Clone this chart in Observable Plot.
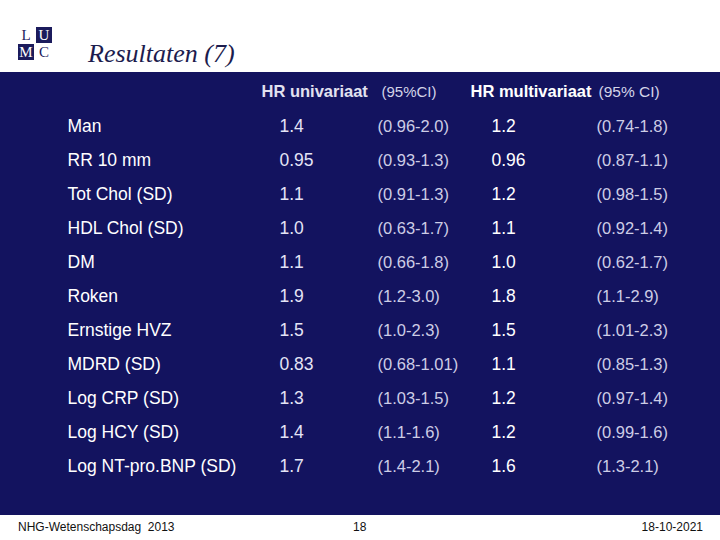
<!DOCTYPE html>
<html>
<head>
<meta charset="utf-8">
<script src="https://cdn.jsdelivr.net/npm/d3@7"></script>
<script src="https://cdn.jsdelivr.net/npm/@observablehq/plot@0.6"></script>
<style>
  body { margin: 0; background: #ffffff; width: 720px; height: 540px; overflow: hidden; font-family: "Liberation Sans", Arial, sans-serif; }
  #top { position: relative; height: 72px; }
  .logo { position: absolute; left: 18px; top: 27px; display: grid; grid-template-columns: 16px 16px; grid-template-rows: 16px 16px; column-gap: 2px; row-gap: 1px; font-family: "Liberation Serif", "Times New Roman", serif; font-size: 15px; line-height: 16px; text-align: center; }
  .logo div { overflow: hidden; }
  .logo .w { background: #ffffff; color: #1b1b5c; }
  .logo .b { background: #1b1b5c; color: #ffffff; }
  #title { position: absolute; left: 88px; top: 39px; font-family: "Liberation Serif", "Times New Roman", serif; font-style: italic; font-size: 26px; color: #1c1c4e; white-space: pre; }
  #chart svg { display: block; }
  #foot { position: relative; height: 25px; font-family: "Liberation Sans Narrow", "Liberation Sans", Arial, sans-serif; font-size: 12px; color: #111; }
  #foot span { position: absolute; top: 5px; white-space: pre; }
</style>
</head>
<body>
<div id="top">
  <div class="logo"><div class="w">L</div><div class="b">U</div><div class="b">M</div><div class="w">C</div></div>
  <div id="title">Resultaten (7)</div>
</div>
<div id="chart"></div>
<div id="foot">
  <span style="left:18px">NHG-Wetenschapsdag  2013</span>
  <span style="left:353px">18</span>
  <span style="right:17px">18-10-2021</span>
</div>
<script>
// ---- data ----
const labels = ["Man", "RR 10 mm", "Tot Chol (SD)", "HDL Chol (SD)", "DM", "Roken", "Ernstige HVZ", "MDRD (SD)", "Log CRP (SD)", "Log HCY (SD)", "Log NT-pro.BNP (SD)"];
const uniHR = ["1.4", "0.95", "1.1", "1.0", "1.1", "1.9", "1.5", "0.83", "1.3", "1.4", "1.7"];
const uniCI = ["(0.96-2.0)", "(0.93-1.3)", "(0.91-1.3)", "(0.63-1.7)", "(0.66-1.8)", "(1.2-3.0)", "(1.0-2.3)", "(0.68-1.01)", "(1.03-1.5)", "(1.1-1.6)", "(1.4-2.1)"];
const multiHR = ["1.2", "0.96", "1.2", "1.1", "1.0", "1.8", "1.5", "1.1", "1.2", "1.2", "1.6"];
const multiCI = ["(0.74-1.8)", "(0.87-1.1)", "(0.98-1.5)", "(0.92-1.4)", "(0.62-1.7)", "(1.1-2.9)", "(1.01-2.3)", "(0.85-1.3)", "(0.97-1.4)", "(0.99-1.6)", "(1.3-2.1)"];
const headers = ["HR univariaat", "(95%CI)", "HR multivariaat", "(95% CI)"];

// ---- table built from arrays ----
const rows = labels.map((label, i) => ({label, uniHR: uniHR[i], uniCI: uniCI[i], multiHR: multiHR[i], multiCI: multiCI[i]}));

const navy = "#13135f";
const font = "'Liberation Sans', Arial, sans-serif";

const col = (field, dx, fill, size, weight) =>
  Plot.text(rows, {y: "label", text: field, frameAnchor: "left", dx, textAnchor: "start",
    fill, fontSize: size, fontWeight: weight, fontFamily: font});

const head = (txt, dx, fill, size, weight) =>
  Plot.text([txt], {text: d => d, frameAnchor: "top-left", dx, dy: 24, textAnchor: "start", lineAnchor: "bottom",
    fill, fontSize: size, fontWeight: weight, fontFamily: font});

const chart = Plot.plot({
  width: 720,
  height: 443,
  margin: 0,
  style: {background: navy, overflow: "visible"},
  y: {type: "point", domain: labels, range: [50, 397], padding: 0, axis: null},
  marks: [
    head(headers[0], 261, "#e2e2f0", 16.5, "bold"),
    head(headers[1], 381, "#d4d4e8", 15, "normal"),
    head(headers[2], 470, "#ffffff", 16.5, "bold"),
    head(headers[3], 598, "#d4d4e8", 15.5, "normal"),
    col("label", 67, "#ffffff", 17.5, "normal"),
    col("uniHR", 279, "#e4e4f6", 17.5, "normal"),
    col("uniCI", 377, "#cdcde6", 16.5, "normal"),
    col("multiHR", 491, "#ffffff", 17.5, "normal"),
    col("multiCI", 596, "#cdcde6", 16.5, "normal")
  ]
});
document.getElementById("chart").appendChild(chart);
</script>
</body>
</html>
